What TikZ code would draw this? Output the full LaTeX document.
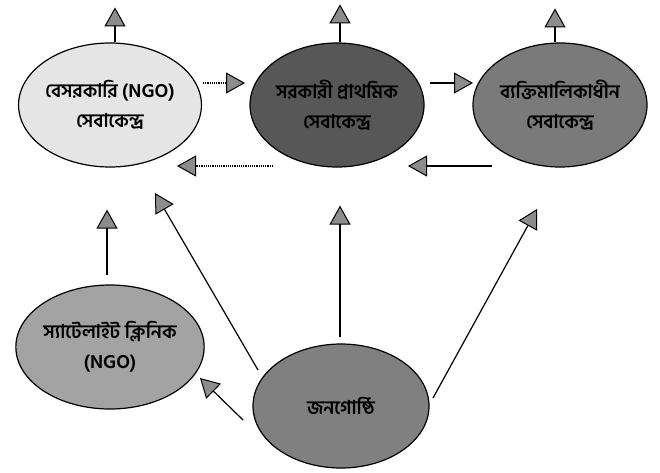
\documentclass[tikz,border=0pt]{standalone}
\usepackage{fontspec}
\newfontfamily\bn[Script=Bengali]{Hind Siliguri}
\setmainfont{Liberation Sans}
\usetikzlibrary{shapes.geometric,arrows.meta,calc}
\begin{document}
\begin{tikzpicture}[x=1pt,y=-1pt,
  blob/.style={ellipse,draw=black,line width=1.2pt,minimum width=174pt,minimum height=124pt,inner sep=0pt,align=center,font=\bn\bfseries\fontsize{19}{30}\selectfont},
  arr/.style={line width=1.2pt,-{Triangle[length=19pt,width=21pt,fill=black!45,line width=1pt]}},
  darr/.style={arr,densely dotted}]
\useasboundingbox (0,0) rectangle (660,472);
\node[blob,fill=black!10] (ngo) at (110,105) {বেসরকারি (NGO)\\সেবাকেন্দ্র};
\node[blob,fill=black!66] (gov) at (337,105) {সরকারী প্রাথমিক\\সেবাকেন্দ্র};
\node[blob,fill=black!52] (pvt) at (560,105) {ব্যক্তিমালিকাধীন\\সেবাকেন্দ্র};
\node[blob,fill=black!36] (sat) at (110,347) {স্যাটেলাইট ক্লিনিক\\(NGO)};
\node[blob,fill=black!50,minimum width=176pt] (jan) at (341,406) {জনগোষ্ঠি};
% upward arrows from top nodes
\draw[arr] ($(ngo.north)+(5,0)$) -- ++(0,-35);
\draw[arr] ($(gov.north)+(3,0)$) -- ++(0,-38);
\draw[arr] ($(pvt.north)+(-5,0)$) -- ++(0,-34);
% horizontal arrows
\draw[darr] ($(ngo.center)+(93,-22)$) -- ($(gov.center)+(-92,-22)$);
\draw[arr] ($(gov.center)+(93,-22)$) -- ($(pvt.center)+(-87,-22)$);
\draw[darr] ($(gov.center)+(-64,61)$) -- ($(ngo.center)+(67,61)$);
\draw[arr] ($(pvt.center)+(-68,61)$) -- ($(gov.center)+(71,61)$);
% satellite to ngo
\draw[arr] ($(sat.north)+(-3,-9)$) -- ($(ngo.south)+(-3,42)$);
% population arrows
\draw[arr] ($(jan.center)+(-98,14)$) -- ($(sat.center)+(90,31)$);
\draw[arr] ($(jan.center)+(-83,-36)$) -- ($(ngo.center)+(45,88)$);
\draw[arr] ($(jan.north)+(-1,-6)$) -- ($(gov.south)+(3,38)$);
\draw[arr] ($(jan.center)+(92,-8)$) -- ($(pvt.center)+(-23,104)$);
\end{tikzpicture}
\end{document}
